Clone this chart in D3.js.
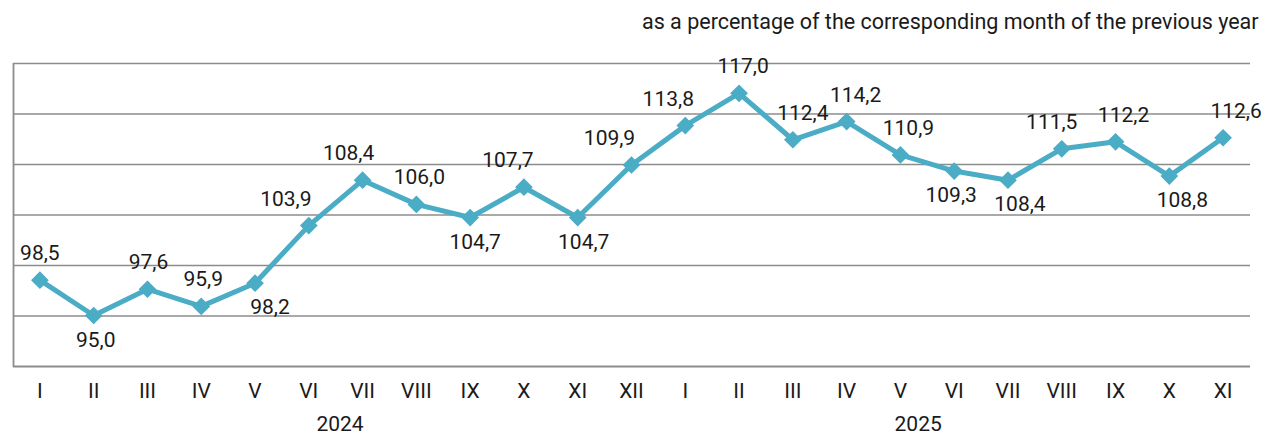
<!DOCTYPE html>
<html>
<head>
<meta charset="utf-8">
<script src="https://cdn.jsdelivr.net/npm/d3@7"></script>
<style>
  html, body { margin: 0; padding: 0; background: #ffffff; }
  svg { display: block; font-family: Roboto, "Noto Sans", sans-serif; }
</style>
</head>
<body>
<svg id="chart" width="1261" height="436"></svg>
<script>
// data
var months = ["I", "II", "III", "IV", "V", "VI", "VII", "VIII", "IX", "X", "XI", "XII",
              "I", "II", "III", "IV", "V", "VI", "VII", "VIII", "IX", "X", "XI"];
var years = ["2024", "2025"];
var yearAnchor = [5.58, 16.33]; // (fractional) month index the year label sits under
var values = [98.5, 95.0, 97.6, 95.9, 98.2, 103.9, 108.4, 106.0, 104.7, 107.7, 104.7, 109.9,
              113.8, 117.0, 112.4, 114.2, 110.9, 109.3, 108.4, 111.5, 112.2, 108.8, 112.6];
var yTicks = [90, 95, 100, 105, 110, 115, 120];
var subtitle = "as a percentage of the corresponding month of the previous year";

// label placement: side (a = above, b = below) and small horizontal nudge
var labelSide = ["a", "b", "a", "a", "b", "a", "a", "a", "b", "a", "b", "a",
                 "a", "a", "a", "a", "a", "b", "b", "a", "a", "b", "a"];
var labelDx = [0, 2, 1, 2, 15, -23, -14, 3, 5, -16, 6, -22,
               -17, 4, 10, 9, 8, -3, 12, -10, 8, 13, 13];

//layout
var plot_left = 13;
var plot_right = 1250;
var plot_top = 63;
var plot_bottom = 366;
var font_size = 21;
var line_color = "#4bacc6";
var grid_color = "#8c8c8c";
var text_color = "#1a1a1a";

var svg = d3.select("#chart");

var idx = d3.range(months.length);

var x = d3.scaleBand().domain(idx).range([plot_left, plot_right]);
var y = d3.scaleLinear().domain([90, 120]).range([plot_bottom, plot_top]);

function cx(i) { return x(0) + (i + 0.5) * x.step(); }

// subtitle
svg.append("text")
    .attr("x", 642).attr("y", 29)
    .attr("font-size", 21.5).attr("fill", text_color)
    .text(subtitle);

// grid lines
svg.append("g").selectAll("line").data(yTicks.filter(t => t > 90)).enter().append("line")
    .attr("x1", plot_left).attr("x2", plot_right)
    .attr("y1", d => y(d) + 0.5).attr("y2", d => y(d) + 0.5)
    .style("stroke", grid_color).style("stroke-width", "1.3px");

// left axis + baseline
svg.append("line")
    .attr("x1", plot_left + 0.5).attr("x2", plot_left + 0.5)
    .attr("y1", y(120)).attr("y2", y(90) + 1)
    .style("stroke", grid_color).style("stroke-width", "1.8px");
svg.append("line")
    .attr("x1", plot_left).attr("x2", plot_right)
    .attr("y1", y(90) + 0.5).attr("y2", y(90) + 0.5)
    .style("stroke", grid_color).style("stroke-width", "2px");

// month labels
svg.append("g").selectAll("text").data(idx).enter().append("text")
    .attr("x", i => cx(i)).attr("y", 398)
    .attr("text-anchor", "middle").attr("font-size", font_size).attr("fill", text_color)
    .text(i => months[i]);

// year labels
svg.append("g").selectAll("text").data(years).enter().append("text")
    .attr("x", (d, k) => cx(yearAnchor[k])).attr("y", 431)
    .attr("text-anchor", "middle").attr("font-size", font_size).attr("fill", text_color)
    .text(d => d);

// line
var line = d3.line().x(i => cx(i)).y(i => y(values[i]));
svg.append("path").datum(idx)
    .attr("d", line)
    .style("fill", "none").style("stroke", line_color)
    .style("stroke-width", "5px").style("stroke-linejoin", "round");

// diamond markers
svg.append("g").selectAll("path").data(idx).enter().append("path")
    .attr("d", d3.symbol().type(d3.symbolDiamond2).size(200))
    .attr("transform", i => `translate(${cx(i)},${y(values[i])})`)
    .style("fill", line_color);

// value labels
svg.append("g").selectAll("text").data(idx).enter().append("text")
    .attr("x", i => cx(i) + labelDx[i])
    .attr("y", i => y(values[i]) + (labelSide[i] == "a" ? -20 : 31))
    .attr("text-anchor", "middle").attr("font-size", font_size).attr("fill", text_color)
    .text(i => values[i].toFixed(1).replace(".", ","));
</script>
</body>
</html>
